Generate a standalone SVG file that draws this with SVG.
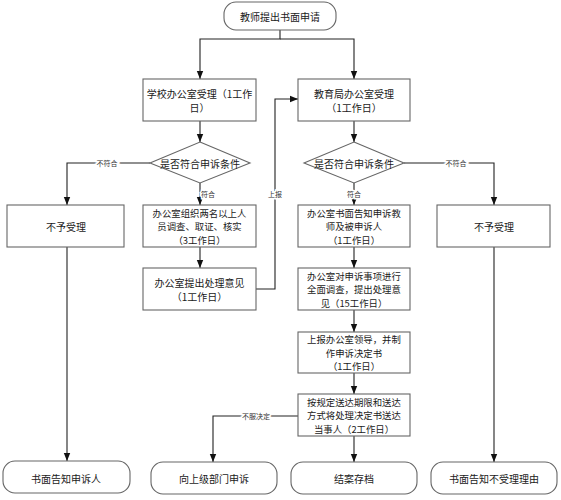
<svg xmlns="http://www.w3.org/2000/svg" width="561" height="500" viewBox="0 0 561 500">
<style>
.box{fill:#fff;stroke:#666;stroke-width:1.1}
.t{font-family:"Noto Sans CJK SC","Liberation Sans",sans-serif;font-size:10px;fill:#1a1a1a;text-anchor:middle;dominant-baseline:central}
.m{font-size:9.4px}
.c{fill:none;stroke:#222;stroke-width:1.1}
.lbl{font-family:"Noto Sans CJK SC","Liberation Sans",sans-serif;font-size:7px;fill:#333;text-anchor:middle;dominant-baseline:central;stroke:#fff;stroke-width:3;paint-order:stroke}
</style>
<defs>
<marker id="ah" markerUnits="userSpaceOnUse" markerWidth="8" markerHeight="8" viewBox="0 0 8 8" refX="8" refY="4" orient="auto">
<path d="M0,0.8 L8,4 L0,7.2 Z" fill="#111"/>
</marker>
</defs>
<rect width="561" height="500" fill="#fff"/>
<g id="connectors">
<path class="c" d="M280,30 V39 H200 V79" marker-end="url(#ah)"/>
<path class="c" d="M280,39 H354 V79" marker-end="url(#ah)"/>
<path class="c" d="M200,121 V142" marker-end="url(#ah)"/>
<path class="c" d="M354,121 V142" marker-end="url(#ah)"/>
<path class="c" d="M150,163 H67 V205" marker-end="url(#ah)"/>
<path class="c" d="M200,183 V205" marker-end="url(#ah)"/>
<path class="c" d="M200,247 V268" marker-end="url(#ah)"/>
<path class="c" d="M256,289 H275 V99 H298" marker-end="url(#ah)"/>
<path class="c" d="M67,247 V461" marker-end="url(#ah)"/>
<path class="c" d="M404,163 H494 V205" marker-end="url(#ah)"/>
<path class="c" d="M354,183 V205" marker-end="url(#ah)"/>
<path class="c" d="M354,247 V268" marker-end="url(#ah)"/>
<path class="c" d="M354,310 V332" marker-end="url(#ah)"/>
<path class="c" d="M354,373 V394" marker-end="url(#ah)"/>
<path class="c" d="M354,436 V462" marker-end="url(#ah)"/>
<path class="c" d="M298,416 H213 V462" marker-end="url(#ah)"/>
<path class="c" d="M494,247 V462" marker-end="url(#ah)"/>
<text class="lbl" x="107" y="163">不符合</text>
<text class="lbl" x="208" y="194">符合</text>
<text class="lbl" x="275" y="194">上报</text>
<text class="lbl" x="456" y="163">不符合</text>
<text class="lbl" x="354" y="194">符合</text>
<text class="lbl" x="256" y="416">不服决定</text>
</g>
<g id="start">
<rect class="box" x="224" y="2" width="112" height="28" rx="12"/>
<text class="t" x="280" y="16">教师提出书面申请</text>
</g>
<g id="school">
<rect class="box" x="143" y="79" width="113" height="42"/>
<text class="t" x="199.5" y="93.5">学校办公室受理（1工作</text>
<text class="t" x="199.5" y="107">日）</text>
</g>
<g id="bureau">
<rect class="box" x="298" y="79" width="112" height="42"/>
<text class="t" x="354" y="93.5">教育局办公室受理</text>
<text class="t" x="354" y="107">（1工作日）</text>
</g>
<g id="decisionL">
<polygon class="box" points="200,142 250,163 200,183 150,163"/>
<text class="t" x="200" y="163">是否符合申诉条件</text>
</g>
<g id="decisionR">
<polygon class="box" points="354,142 404,163 354,183 304,163"/>
<text class="t" x="354" y="163">是否符合申诉条件</text>
</g>
<g id="rejectL">
<rect class="box" x="7" y="205" width="117" height="42"/>
<text class="t" x="66" y="226">不予受理</text>
</g>
<g id="investigate">
<rect class="box" x="143" y="205" width="113" height="42"/>
<text class="t m" x="199.5" y="212.5">办公室组织两名以上人</text>
<text class="t m" x="199.5" y="226">员调查、取证、核实</text>
<text class="t m" x="199.5" y="239.5">（3工作日）</text>
</g>
<g id="opinion">
<rect class="box" x="143" y="268" width="113" height="42"/>
<text class="t" x="199.5" y="282.5">办公室提出处理意见</text>
<text class="t" x="199.5" y="296">（1工作日）</text>
</g>
<g id="notify">
<rect class="box" x="298" y="205" width="112" height="42"/>
<text class="t m" x="354" y="212.5">办公室书面告知申诉教</text>
<text class="t m" x="354" y="226">师及被申诉人</text>
<text class="t m" x="354" y="239.5">（1工作日）</text>
</g>
<g id="fullInvestigate">
<rect class="box" x="298" y="268" width="112" height="42"/>
<text class="t m" x="354" y="275.5">办公室对申诉事项进行</text>
<text class="t m" x="354" y="289">全面调查，提出处理意</text>
<text class="t m" x="354" y="302.5">见（15工作日）</text>
</g>
<g id="report">
<rect class="box" x="298" y="332" width="112" height="41"/>
<text class="t m" x="354" y="339">上报办公室领导，并制</text>
<text class="t m" x="354" y="352.5">作申诉决定书</text>
<text class="t m" x="354" y="366">（1工作日）</text>
</g>
<g id="deliver">
<rect class="box" x="298" y="394" width="112" height="42"/>
<text class="t m" x="354" y="401.5">按规定送达期限和送达</text>
<text class="t m" x="354" y="415">方式将处理决定书送达</text>
<text class="t m" x="354" y="428.5">当事人（2工作日）</text>
</g>
<g id="rejectR">
<rect class="box" x="437" y="205" width="113" height="42"/>
<text class="t" x="494" y="226">不予受理</text>
</g>
<g id="endNotify">
<rect class="box" x="3" y="461" width="127" height="32" rx="12"/>
<text class="t" x="66" y="478">书面告知申诉人</text>
</g>
<g id="endAppeal">
<rect class="box" x="151" y="462" width="126" height="32" rx="12"/>
<text class="t" x="214" y="478">向上级部门申诉</text>
</g>
<g id="endArchive">
<rect class="box" x="291" y="462" width="126" height="32" rx="12"/>
<text class="t" x="354" y="478">结案存档</text>
</g>
<g id="endReason">
<rect class="box" x="431" y="462" width="126" height="32" rx="12"/>
<text class="t" x="494" y="478">书面告知不受理理由</text>
</g>
</svg>
